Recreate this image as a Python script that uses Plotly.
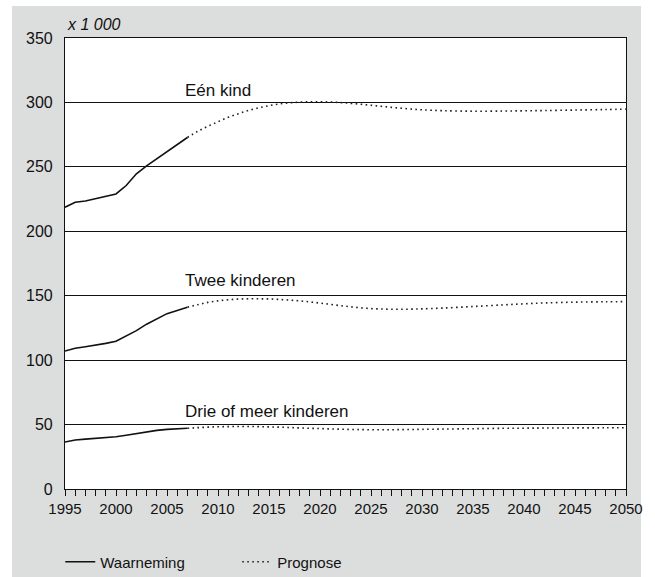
import plotly.graph_objects as go

# ---- data (x 1 000) ----
obs_years = list(range(1995, 2008))
een_obs = [218.7, 222.6, 223.5, 225.2, 227.0, 229.0, 235.5, 244.6, 250.8, 256.3, 261.8, 267.3, 272.8]
twee_obs = [107.1, 109.2, 110.4, 111.6, 113.0, 114.7, 118.5, 122.9, 127.9, 132.0, 136.1, 138.6, 141.1]
drie_obs = [36.5, 38.0, 38.7, 39.3, 40.0, 40.6, 41.7, 43.0, 44.5, 45.5, 46.3, 46.6, 47.1]

prog_years = [2007, 2008, 2009, 2010, 2011, 2012, 2013, 2014, 2015, 2016, 2017, 2018, 2019, 2020,
              2021, 2022, 2023, 2024, 2025, 2026, 2027, 2028, 2029, 2030, 2032, 2035, 2038, 2040,
              2042, 2045, 2048, 2050]
een_prog = [272.8, 277.5, 281.5, 285.0, 288.5, 291.2, 293.8, 295.8, 297.5, 298.8, 299.7, 300.2, 300.5, 300.5,
            300.3, 299.9, 299.3, 298.6, 297.8, 297.0, 296.2, 295.5, 294.8, 294.3, 293.6, 293.2, 293.3, 293.5,
            293.7, 294.1, 294.5, 294.8]
twee_prog = [141.1, 143.0, 144.8, 146.0, 146.9, 147.4, 147.6, 147.6, 147.5, 147.1, 146.6, 146.0, 145.2, 144.3,
             143.3, 142.3, 141.4, 140.6, 140.0, 139.7, 139.5, 139.5, 139.6, 139.8, 140.4, 141.6, 142.9, 143.7,
             144.4, 145.0, 145.3, 145.4]
drie_prog = [47.1, 47.6, 48.0, 48.3, 48.4, 48.5, 48.5, 48.4, 48.2, 48.0, 47.7, 47.4, 47.1, 46.9,
             46.6, 46.4, 46.2, 46.1, 46.0, 46.0, 46.0, 46.1, 46.2, 46.3, 46.5, 46.8, 47.1, 47.2,
             47.3, 47.4, 47.5, 47.6]

series_labels = ["Eén kind", "Twee kinderen", "Drie of meer kinderen"]
label_y = [309, 161.5, 60.5]
x_ticks = list(range(1995, 2051, 5))
y_ticks = list(range(0, 351, 50))

FONT = "Liberation Sans, Arial, Helvetica, sans-serif"
GRAY_BG = "#dcdddd"

fig = go.Figure()

obs_sets = [een_obs, twee_obs, drie_obs]
prog_sets = [een_prog, twee_prog, drie_prog]
for i in range(3):
    fig.add_trace(go.Scatter(
        x=obs_years, y=obs_sets[i], mode="lines",
        line=dict(color="#111111", width=1.6),
        name="Waarneming", legendgroup="obs", showlegend=(i == 0),
        hoverinfo="skip"))
for i in range(3):
    fig.add_trace(go.Scatter(
        x=prog_years, y=prog_sets[i], mode="lines",
        line=dict(color="#222222", width=1.6, dash="1.6px,3.4px", shape="spline"),
        name="Prognose", legendgroup="prog", showlegend=(i == 0),
        hoverinfo="skip"))

for txt, yv in zip(series_labels, label_y):
    fig.add_annotation(x=2006.6, y=yv, xref="x", yref="y", text=txt, showarrow=False,
                       xanchor="left", yanchor="middle",
                       font=dict(family=FONT, size=17, color="#111111"))

fig.add_annotation(x=0.0, y=1.029, xref="paper", yref="paper", text="<i>x 1 000</i>",
                   showarrow=False, xanchor="left", yanchor="middle",
                   font=dict(family=FONT, size=16, color="#111111"))

# gray panel + white plotting area
fig.add_shape(type="rect", xref="paper", yref="paper",
              x0=-0.0945, x1=1.0267, y0=-0.2, y1=1.071,
              fillcolor=GRAY_BG, line=dict(width=0), layer="below")
fig.add_shape(type="rect", xref="paper", yref="paper",
              x0=0, x1=1, y0=0, y1=1,
              fillcolor="white", line=dict(width=0), layer="below")

fig.update_layout(
    width=655, height=577,
    margin=dict(l=65, r=29, t=38, b=88, autoexpand=False),
    paper_bgcolor="white", plot_bgcolor="white",
    font=dict(family=FONT, color="#111111"),
    showlegend=True,
    legend=dict(orientation="h", xref="container", x=0.092, xanchor="left",
                yref="container", y=0.026, yanchor="middle",
                bgcolor="rgba(0,0,0,0)", font=dict(family=FONT, size=15, color="#111111"),
                entrywidth=132, entrywidthmode="pixels"),
    xaxis=dict(range=[1995, 2050], tickvals=x_ticks, ticks="outside", ticklen=6,
               tickcolor="#111111", tickwidth=1,
               minor=dict(dtick=1, ticks="outside", ticklen=6, tickcolor="#111111", tickwidth=1),
               showgrid=False, zeroline=False, showline=True, linecolor="#111111", linewidth=1.2,
               mirror=True, tickfont=dict(family=FONT, size=15, color="#111111")),
    yaxis=dict(range=[0, 350], tickvals=y_ticks, ticks="", showgrid=True,
               gridcolor="#111111", gridwidth=1.2, zeroline=False, showline=True,
               linecolor="#111111", linewidth=1.2, mirror=True, ticklabelstandoff=8,
               tickfont=dict(family=FONT, size=16, color="#111111")),
)

fig.write_html("out.html", config={"displayModeBar": False},
               post_script="document.body.style.margin='0';")
